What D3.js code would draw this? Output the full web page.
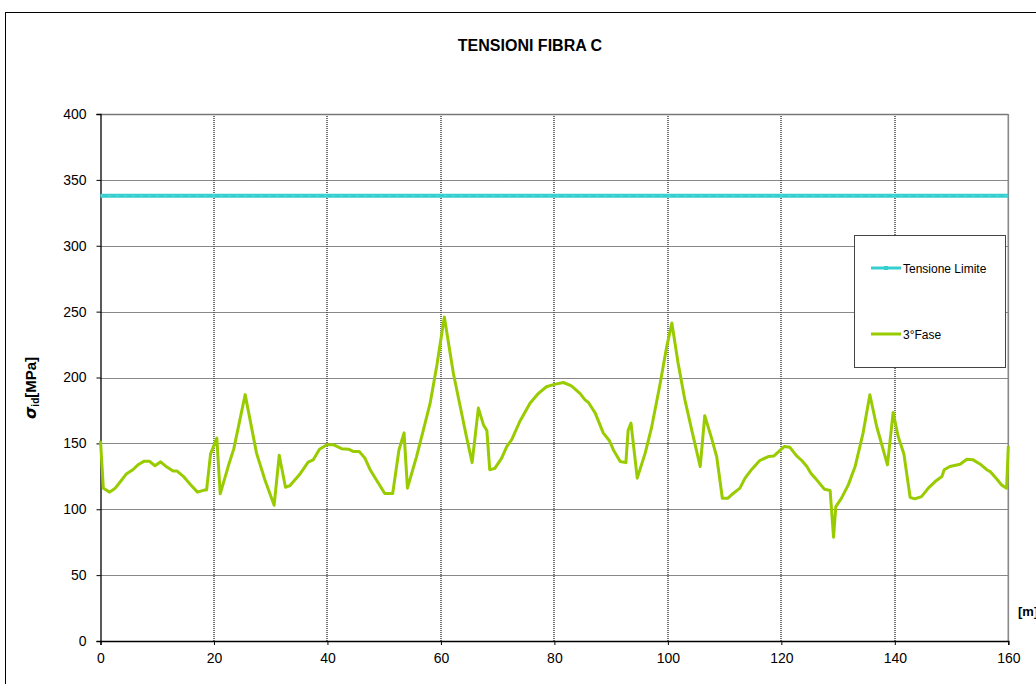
<!DOCTYPE html>
<html><head><meta charset="utf-8">
<script src="https://cdn.jsdelivr.net/npm/d3@7"></script>
<style>body{margin:0;background:#fff;}svg{display:block;font-family:Arial,"Liberation Sans",sans-serif;}</style>
</head><body><svg id="c" width="1036" height="684"></svg>
<script>
const chartTitle = "TENSIONI FIBRA C";
const xTicks = [0, 20, 40, 60, 80, 100, 120, 140, 160];
const yTicks = [0, 50, 100, 150, 200, 250, 300, 350, 400];
const limitValue = 338;
const seriesNames = ["Tensione Limite", "3°Fase"];
const faseX = [0,0.5,1.6,2.6,3.7,4.6,5.7,6.7,7.7,8.6,9.6,10.6,11.7,12.8,13.5,14.6,15.8,17.1,18.4,18.7,19.4,20.5,21.1,22.5,23.5,25.5,27.5,29,30.6,31.5,32.6,33.4,35.2,36.6,37.5,38.6,39.9,41.0,42.5,43.7,44.6,45.6,46.6,47.6,48.8,50.1,51.5,52.6,53.5,54.1,55.7,56.9,58.1,59.3,60.6,62.2,63.4,64.5,65.5,66.6,67.5,68.1,68.6,69.5,70.7,71.6,72.5,73.9,75.7,77.2,78.6,80.0,81.6,83.0,84.5,85.4,86.0,87.2,88.6,89.7,90.4,91.6,92.6,93.0,93.5,94.6,96.0,97.1,98.6,99.8,100.7,101.8,103.0,104.2,105.7,106.5,107.7,108.6,109.6,110.6,111.5,112.7,113.6,114.8,116.2,117.7,118.7,120.5,121.5,122.7,123.6,124.5,125.2,125.9,126.7,127.6,128.6,129.2,129.6,130.6,131.8,133.0,134.4,135.6,136.8,138.7,139.7,140.6,141.6,142.7,143.5,144.7,145.9,147.1,148.3,148.7,149.7,151.5,152.7,153.8,155.0,156.2,156.8,158.0,158.8,159.7,160];
const faseY = [152,116,113,116,122,127,130,134,136.5,136.5,133,136,132,129,129,125,119,113,114.7,114.7,142,154,111.7,132.4,146,187,142.6,122,103,141,116.7,118,127,135.7,137.5,145.6,149,149,146,145.6,143.8,143.8,138.8,129.4,121,112,112,145,158,116,140,160,180.5,209.6,246,203,178,155,135.4,176.8,164,159.7,130,131,138.8,147.6,153,166.6,180.5,188,193,194.8,196.2,193.7,188,183,181,173,158,152,145,136.2,135.4,160,165.4,123.6,142.6,161.5,194.5,223.5,241.3,211,183,160.3,132.4,171,154,140,108.4,108.4,112,116,123.6,130.4,137,140,140.5,147.6,147,140.5,137,132.4,127.4,124,119.8,115.2,114.2,78.8,102,108.4,118.5,132.4,157.8,186.9,162.8,133.7,173.4,155,142,109,107.9,109.6,116,121,124.8,130,132.4,134.2,138,137.5,134.4,130,128.6,122.8,118.5,116,148];

const svg = d3.select("#c");
const L = 100.5, R = 1008.3, T = 114, B = 641;
const x = d3.scaleLinear().domain([0,160]).range([L,R]);
const y = d3.scaleLinear().domain([0,400]).range([B,T]);

// outer chart border
svg.append("rect").attr("x",5.5).attr("y",12.5).attr("width",1040).attr("height",700)
  .attr("fill","none").attr("stroke","#000").attr("stroke-width",1);

// title
svg.append("text").attr("x",530).attr("y",51).attr("text-anchor","middle")
  .attr("font-weight","bold").attr("font-size",16).text(chartTitle);

// gridlines
const grid = svg.append("g");
grid.selectAll("line.h").data(yTicks.filter(d=>d>0&&d<400)).join("line")
  .attr("x1",L).attr("x2",R).attr("y1",d=>Math.round(y(d))+0.5).attr("y2",d=>Math.round(y(d))+0.5)
  .attr("stroke","#111").attr("stroke-width",1.2).attr("stroke-dasharray","1,1");
grid.selectAll("line.v").data(xTicks.filter(d=>d>0&&d<160)).join("line")
  .attr("y1",T).attr("y2",B).attr("x1",d=>Math.round(x(d))).attr("x2",d=>Math.round(x(d)))
  .attr("stroke","#444").attr("stroke-width",1.5).attr("stroke-dasharray","1,1");

// plot frame top/right grey
svg.append("line").attr("x1",L).attr("x2",R).attr("y1",T+0.5).attr("y2",T+0.5).attr("stroke","#777").attr("stroke-width",1.3);
svg.append("line").attr("x1",R).attr("x2",R).attr("y1",T).attr("y2",B).attr("stroke","#888").attr("stroke-width",1.6);

// axes
const yAxis = d3.axisLeft(y).tickValues(yTicks).tickSize(4).tickPadding(10);
const gy = svg.append("g").attr("transform",`translate(${L},0)`).call(yAxis);
const xAxis = d3.axisBottom(x).tickValues(xTicks).tickSize(4).tickPadding(8);
const gx = svg.append("g").attr("transform",`translate(0,${B})`).call(xAxis);
[gy,gx].forEach(g=>{
  g.select(".domain").attr("stroke","#000").attr("stroke-width",1.3);
  g.selectAll(".tick line").attr("stroke","#000");
  g.selectAll(".tick text").attr("font-size",14).attr("fill","#000").attr("font-family","Arial, 'Liberation Sans', sans-serif");
});

// limit line
svg.append("line").attr("x1",x(0)).attr("x2",x(160)).attr("y1",y(limitValue)).attr("y2",y(limitValue))
  .attr("stroke","#36CFCF").attr("stroke-width",4);
svg.append("line").attr("x1",x(0)).attr("x2",x(160)).attr("y1",y(limitValue)).attr("y2",y(limitValue))
  .attr("stroke","#6fe0e0").attr("stroke-width",1).attr("stroke-dasharray","2,6");

// series line
const pts = faseX.map((d,i)=>[d,faseY[i]]);
svg.append("path").datum(pts)
  .attr("d", d3.line().x(d=>x(d[0])).y(d=>y(d[1])))
  .attr("fill","none").attr("stroke","#99CC00").attr("stroke-width",3).attr("stroke-linejoin","round");

// y label
const yl = svg.append("text").attr("transform","translate(36,388) rotate(-90)")
  .attr("text-anchor","middle").attr("font-weight","bold").attr("font-size",15);
yl.append("tspan").attr("font-style","italic").attr("font-size",16).attr("font-family","'DejaVu Sans', sans-serif").text("σ");
yl.append("tspan").attr("font-size",10).attr("dy",3).text("id");
yl.append("tspan").attr("dy",-3).text("[MPa]");

// x label (clipped by edge)
svg.append("text").attr("x",1018).attr("y",616).attr("font-weight","bold").attr("font-size",13).text("[m]");

// legend
const lg = svg.append("g");
lg.append("rect").attr("x",854.5).attr("y",235.5).attr("width",151).attr("height",132)
  .attr("fill","#fff").attr("stroke","#444").attr("stroke-width",1);
const legColors = ["#36CFCF","#99CC00"];
const legY = [268, 334];
seriesNames.forEach((n,i)=>{
  lg.append("line").attr("x1",871).attr("x2",901).attr("y1",legY[i]).attr("y2",legY[i])
    .attr("stroke",legColors[i]).attr("stroke-width",3);
  if(i===0) lg.append("rect").attr("x",884).attr("y",legY[i]-2).attr("width",4).attr("height",4).attr("fill",legColors[i]);
  lg.append("text").attr("x",903).attr("y",legY[i]+4.5).attr("font-size",12).text(n);
});
</script></body></html>
